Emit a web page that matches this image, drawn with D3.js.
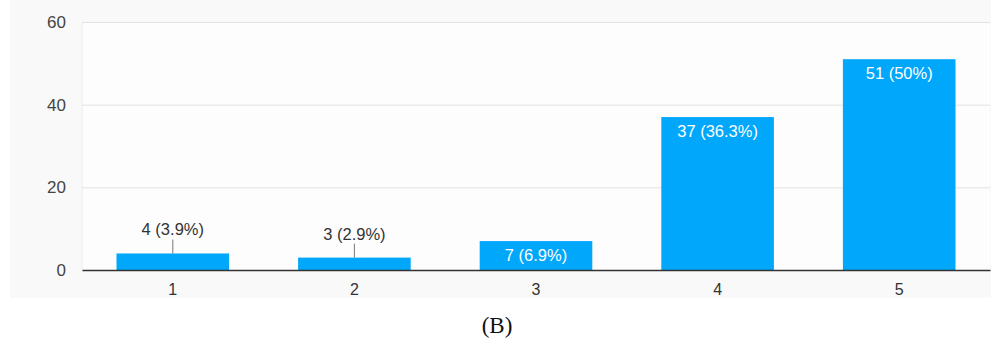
<!DOCTYPE html>
<html>
<head>
<meta charset="utf-8">
<script src="https://cdn.jsdelivr.net/npm/d3@7"></script>
<style>
  html, body { margin: 0; padding: 0; background: #ffffff; }
  svg { display: block; }
</style>
</head>
<body>
<svg id="chart" width="991" height="339"></svg>
<script>
// Response counts per rating
const categories = ["1", "2", "3", "4", "5"];
const counts = [4, 3, 7, 37, 51];
const percents = ["3.9%", "2.9%", "6.9%", "36.3%", "50%"];
const yTicks = [0, 20, 40, 60];
const caption = "(B)";

const W = 991, H = 339;
const margin = { left: 82, right: 1, top: 22, bottom: 69 };
const plotW = W - margin.left - margin.right;
const plotH = H - margin.top - margin.bottom;

const svg = d3.select("#chart");

// soft panel behind the chart
svg.append("rect")
  .attr("x", 10).attr("y", 0)
  .attr("width", W - 10).attr("height", 298)
  .attr("fill", "#f9f9f9");

const g = svg.append("g").attr("transform", `translate(${margin.left},${margin.top})`);

const x = d3.scaleBand().domain(categories).range([0, plotW]).paddingInner(0.38).paddingOuter(0.19);
const y = d3.scaleLinear().domain([0, 60]).range([plotH, 0]);

// plot area
g.append("rect")
  .attr("x", 0).attr("y", 0)
  .attr("width", plotW).attr("height", plotH)
  .attr("fill", "#fdfdfd");

// left edge of plot
g.append("line")
  .attr("x1", 0).attr("x2", 0).attr("y1", 0).attr("y2", plotH)
  .attr("stroke", "#ececec");

// horizontal gridlines
g.append("g")
  .call(d3.axisLeft(y).tickValues(yTicks).tickSize(-plotW).tickFormat(""))
  .call(s => s.select(".domain").remove())
  .call(s => s.selectAll(".tick line").attr("stroke", "#e2e2e2").attr("stroke-width", 1));

// y tick labels
g.append("g")
  .call(d3.axisLeft(y).tickValues(yTicks).tickSize(0).tickPadding(16))
  .call(s => s.select(".domain").remove())
  .call(s => s.selectAll(".tick text")
    .attr("font-family", "Liberation Sans, Arial, sans-serif")
    .attr("font-size", 17)
    .attr("fill", "#444"));

// bars
g.selectAll("rect.bar")
  .data(counts)
  .join("rect")
  .attr("class", "bar")
  .attr("x", (d, i) => x(categories[i]))
  .attr("y", d => y(d))
  .attr("width", x.bandwidth())
  .attr("height", d => plotH - y(d))
  .attr("fill", "#01a7fa");

// baseline axis
g.append("g")
  .attr("transform", `translate(0,${plotH})`)
  .call(d3.axisBottom(x).tickSize(0).tickPadding(14))
  .call(s => s.select(".domain").attr("stroke", "#333").attr("stroke-width", 1.5))
  .call(s => s.selectAll(".tick text")
    .attr("font-family", "Liberation Sans, Arial, sans-serif")
    .attr("font-size", 16)
    .attr("fill", "#333"));

// value labels: inside tall bars, above short bars with a leader line
const labelFont = "Liberation Sans, Arial, sans-serif";
counts.forEach((d, i) => {
  const cx = x(categories[i]) + x.bandwidth() / 2;
  const text = `${d} (${percents[i]})`;
  const barH = plotH - y(d);
  if (barH >= 24) {
    g.append("text")
      .attr("x", cx).attr("y", y(d) + 20)
      .attr("text-anchor", "middle")
      .attr("font-family", labelFont)
      .attr("font-size", 16.5)
      .attr("fill", "#ffffff")
      .text(text);
  } else {
    const baseY = y(d) - 18;
    g.append("line")
      .attr("x1", cx).attr("x2", cx)
      .attr("y1", y(d)).attr("y2", baseY + 4)
      .attr("stroke", "#777").attr("stroke-width", 1);
    g.append("text")
      .attr("x", cx).attr("y", baseY)
      .attr("text-anchor", "middle")
      .attr("font-family", labelFont)
      .attr("font-size", 16.5)
      .attr("fill", "#333")
      .text(text);
  }
});

// caption
svg.append("text")
  .attr("x", 497).attr("y", 333)
  .attr("text-anchor", "middle")
  .attr("font-family", "Liberation Serif, Times New Roman, serif")
  .attr("font-size", 23)
  .attr("fill", "#111")
  .text(caption);
</script>
</body>
</html>
